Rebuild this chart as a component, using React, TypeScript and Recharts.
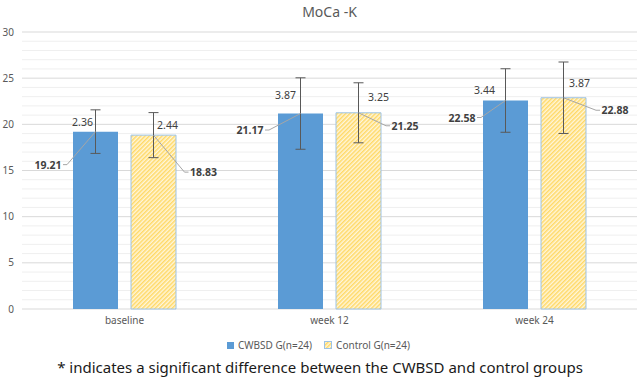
import React from 'react';
import { BarChart, Bar, XAxis, YAxis, CartesianGrid, ErrorBar, LabelList, Legend } from 'recharts';

const categories = ['baseline', 'week 12', 'week 24'];
const cwbsdMean = [19.21, 21.17, 22.58];
const cwbsdSd = [2.36, 3.87, 3.44];
const controlMean = [18.83, 21.25, 22.88];
const controlSd = [2.44, 3.25, 3.87];
const yTicks = [0, 1, 2, 3, 4, 5, 6, 7, 8, 9, 10, 11, 12, 13, 14, 15, 16, 17, 18, 19, 20, 21, 22, 23, 24, 25, 26, 27, 28, 29, 30];
const seriesNames = ['CWBSD G(n=24)', 'Control G(n=24)'];
const title = 'MoCa -K';
const footnote = '* indicates a significant difference between the CWBSD and control groups';

const data = categories.map((c, i) => ({
  name: c,
  cw: cwbsdMean[i],
  cwSd: cwbsdSd[i],
  ct: controlMean[i],
  ctSd: controlSd[i],
}));

// layout: label offsets relative to bar top centre
const cwMeanOff = [{ dx: -47.5, dy: 33 }, { dx: -50.5, dy: 16.5 }, { dx: -43.5, dy: 17 }];
const ctMeanOff = [{ dx: 50, dy: 37 }, { dx: 46.5, dy: 13 }, { dx: 51.5, dy: 12.5 }];
const cwSdOff = [{ dx: -13, dy: -10 }, { dx: -15, dy: -18.5 }, { dx: -21, dy: -10.5 }];
const ctSdOff = [{ dx: 14, dy: -10 }, { dx: 20, dy: -16 }, { dx: 16, dy: -14.5 }];

const BLUE = '#5B9BD5';
const TEXT = '#404040';
const FONT = "'Noto Sans', 'Open Sans', sans-serif";

const makeMeanLabel = (offs: { dx: number; dy: number }[], side: 'left' | 'right') => (props: any) => {
  const { x, y, width, value, index } = props;
  const o = offs[index];
  if (!o) return null;
  const cx = Number(x) + Number(width) / 2;
  const cy = Number(y);
  const lx = cx + o.dx;
  const ly = cy + o.dy;
  const half = 13;
  const edge = side === 'left' ? lx + half + 2 : lx - half - 2;
  const bend = side === 'left' ? edge + 4 : edge - 4;
  return (
    <g>
      <polyline points={`${edge},${ly} ${bend},${ly} ${cx},${cy}`} fill="none" stroke="#A6A6A6" strokeWidth={1} />
      <text x={lx} y={ly} textAnchor="middle" dominantBaseline="central" fontSize={10.5} fontWeight="bold" fill={TEXT} fontFamily={FONT}>
        {Number(value).toFixed(2)}
      </text>
    </g>
  );
};

const makeSdLabel = (offs: { dx: number; dy: number }[]) => (props: any) => {
  const { x, y, width, value, index } = props;
  const o = offs[index];
  if (!o) return null;
  const cx = Number(x) + Number(width) / 2;
  const cy = Number(y);
  return (
    <text x={cx + o.dx} y={cy + o.dy} textAnchor="middle" dominantBaseline="central" fontSize={10.5} fill={TEXT} fontFamily={FONT}>
      {Number(value).toFixed(2)}
    </text>
  );
};

const gridLine = (props: any) => {
  const { x1, x2, y1, y2, index } = props;
  const major = index % 5 === 0;
  return <line key={`g${index}`} x1={x1} x2={x2} y1={y1} y2={y2} stroke={major ? '#D9D9D9' : '#EFEFEF'} strokeWidth={1} />;
};

const LegendContent = () => (
  <div style={{ height: 20, display: 'flex', justifyContent: 'center', alignItems: 'center', fontSize: 10, color: '#595959', fontFamily: FONT }}>
    <span style={{ display: 'inline-block', width: 7, height: 7, background: BLUE, marginRight: 4 }} />
    <span style={{ marginRight: 12 }}>{seriesNames[0]}</span>
    <svg width={8} height={8} style={{ marginRight: 4 }}>
      <rect x={0.5} y={0.5} width={7} height={7} fill="url(#hatchL)" stroke="#9DC3E6" strokeWidth={1} />
    </svg>
    <span>{seriesNames[1]}</span>
  </div>
);

export default function App() {
  return (
    <div style={{ position: 'absolute', left: 0, top: 0, width: 640, height: 377, background: '#fff', fontFamily: FONT }}>
      <svg width={0} height={0} style={{ position: 'absolute' }}>
        <defs>
          <pattern id="hatchL" width="3" height="3" patternUnits="userSpaceOnUse" patternTransform="rotate(45)">
            <rect width="3" height="3" fill="#FFF6DA" />
            <rect width="1.5" height="3" fill="#FFD966" />
          </pattern>
        </defs>
      </svg>
      <div style={{ position: 'absolute', left: 0, top: 2, width: 659, textAlign: 'center', fontSize: 14, color: '#595959' }}>{title}</div>
      <BarChart width={640} height={377} data={data} margin={{ top: 32, right: 3, left: 0, bottom: 22 }} barSize={45} barGap={13}>
        <defs>
          <pattern id="hatch" width="3" height="3" patternUnits="userSpaceOnUse" patternTransform="rotate(45)">
            <rect width="3" height="3" fill="#FFF6DA" />
            <rect width="1.5" height="3" fill="#FFD966" />
          </pattern>
        </defs>
        <CartesianGrid vertical={false} horizontal={gridLine} />
        <XAxis dataKey="name" axisLine={false} tickLine={false} height={26} tick={{ fontSize: 10, fill: '#595959' }} />
        <YAxis
          width={22}
          domain={[0, 30]}
          ticks={yTicks}
          interval={0}
          axisLine={false}
          tickLine={false}
          tick={{ fontSize: 10, fill: '#595959' }}
          tickFormatter={(v: number) => (v % 5 === 0 ? String(v) : '')}
        />
        <Legend verticalAlign="bottom" content={<LegendContent />} />
        <Bar dataKey="cw" name={seriesNames[0]} fill={BLUE} isAnimationActive={false}>
          <ErrorBar dataKey="cwSd" width={5} stroke="#595959" strokeWidth={1} />
          <LabelList dataKey="cw" content={makeMeanLabel(cwMeanOff, 'left')} />
          <LabelList dataKey="cwSd" content={makeSdLabel(cwSdOff)} />
        </Bar>
        <Bar dataKey="ct" name={seriesNames[1]} fill="url(#hatch)" stroke="#9DC3E6" strokeWidth={1} isAnimationActive={false}>
          <ErrorBar dataKey="ctSd" width={5} stroke="#595959" strokeWidth={1} />
          <LabelList dataKey="ct" content={makeMeanLabel(ctMeanOff, 'right')} />
          <LabelList dataKey="ctSd" content={makeSdLabel(ctSdOff)} />
        </Bar>
      </BarChart>
      <div style={{ position: 'absolute', left: 0, top: 357, width: 640, textAlign: 'center', fontSize: 15, color: '#1a1a1a' }}>{footnote}</div>
    </div>
  );
}
